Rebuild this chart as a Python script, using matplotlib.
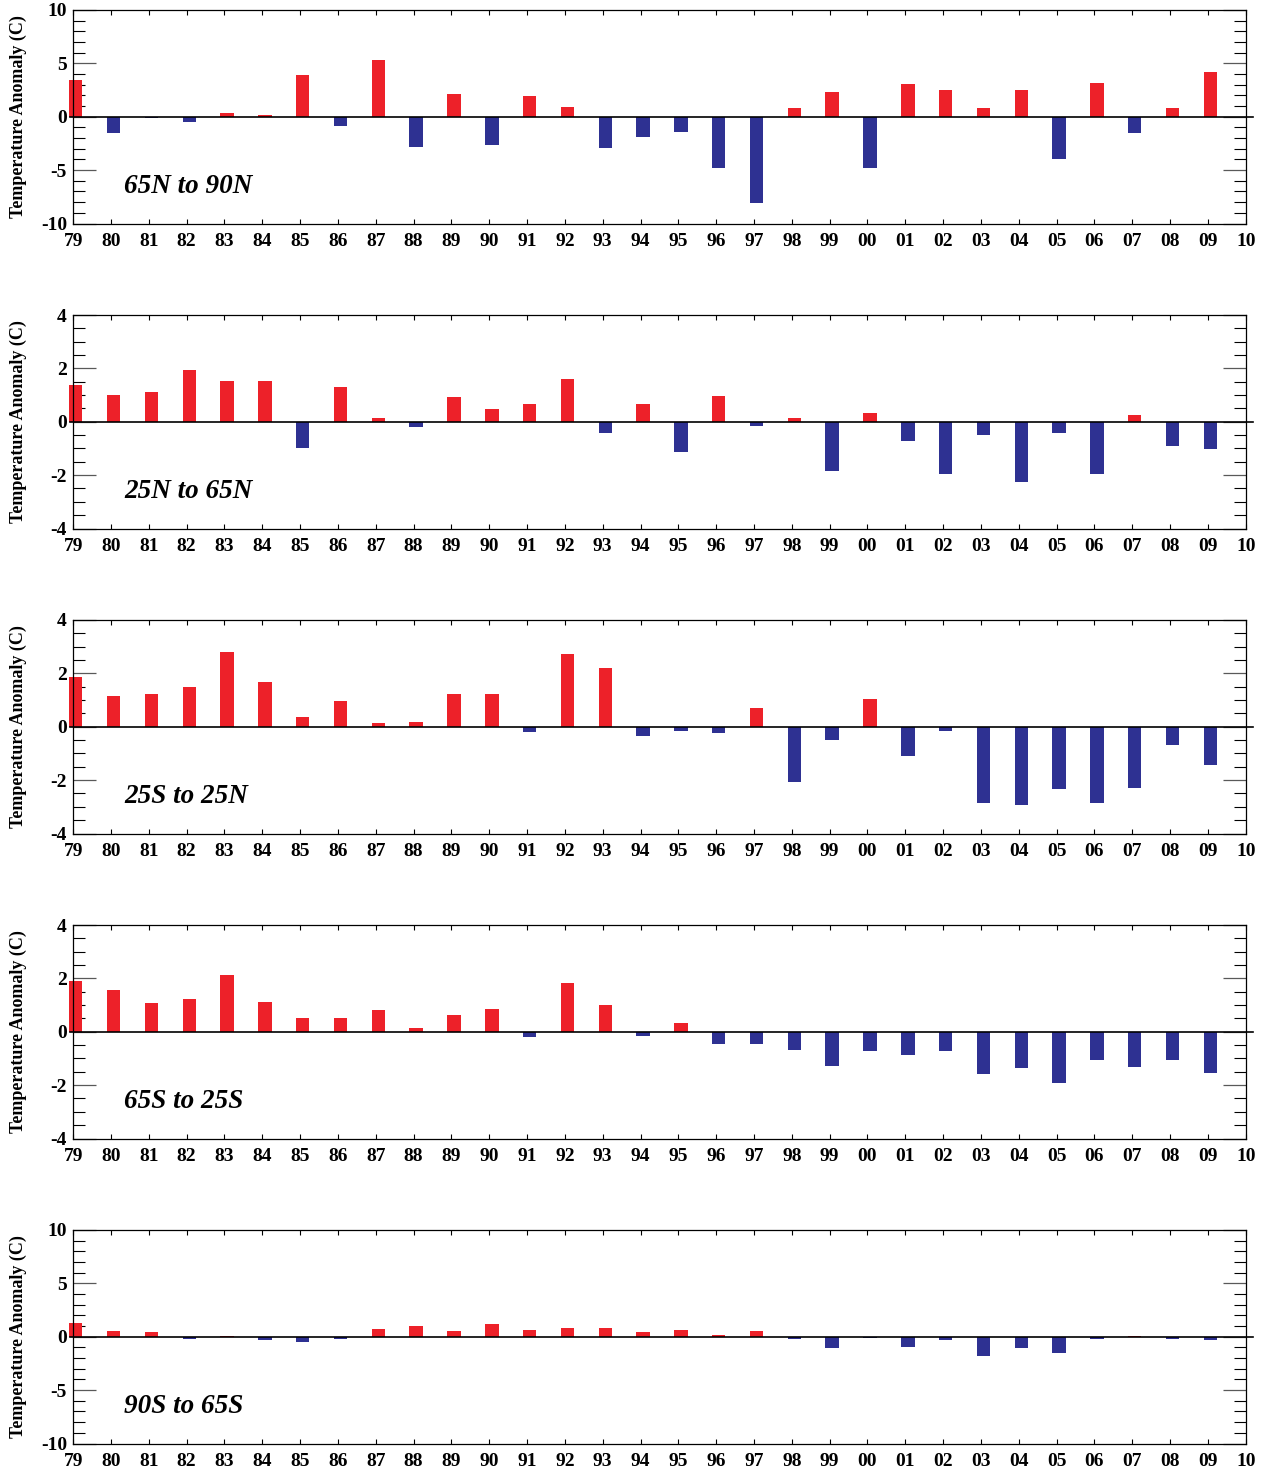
import matplotlib
matplotlib.use('Agg')
import matplotlib.pyplot as plt
from matplotlib.ticker import MultipleLocator

plt.rcParams['font.family'] = ['Liberation Serif', 'DejaVu Serif']
plt.rcParams['font.weight'] = 'bold'
plt.rcParams['axes.unicode_minus'] = False

# annual anomalies, 1979-2009
years = list(range(1979, 2010))
tick_years = list(range(1979, 2011))
tick_labels = ['{:02d}'.format(y % 100) for y in tick_years]

n65_90 = [3.4, -1.5, -0.15, -0.45, 0.35, 0.15, 3.95, -0.85, 5.35, -2.8,
          2.1, -2.6, 1.9, 0.9, -2.95, -1.9, -1.4, -4.8, -8.05, 0.8,
          2.3, -4.8, 3.1, 2.55, 0.8, 2.55, -4.0, 3.2, -1.5, 0.8, 4.2]
n25_65 = [1.39, 1.01, 1.12, 1.95, 1.54, 1.54, -0.98, 1.31, 0.15, -0.19,
          0.94, 0.49, 0.68, 1.61, -0.41, 0.68, -1.12, 0.98, -0.17, 0.15,
          -1.84, 0.34, -0.71, -1.95, -0.49, -2.25, -0.41, -1.95, 0.26, -0.9, -1.01]
s25_n25 = [1.88, 1.16, 1.24, 1.5, 2.81, 1.69, 0.38, 0.98, 0.15, 0.19,
           1.24, 1.24, -0.19, 2.74, 2.21, -0.34, -0.17, -0.22, 0.71, -2.06,
           -0.49, 1.05, -1.09, -0.17, -2.85, -2.92, -2.32, -2.85, -2.29, -0.67, -1.42]
s65_25 = [1.91, 1.58, 1.09, 1.24, 2.14, 1.12, 0.52, 0.52, 0.82, 0.15,
          0.64, 0.86, -0.19, 1.84, 1.01, -0.17, 0.34, -0.45, -0.45, -0.67,
          -1.27, -0.71, -0.86, -0.71, -1.57, -1.35, -1.91, -1.05, -1.31, -1.05, -1.54]
s90_65 = [1.3, 0.5, 0.4, -0.2, 0.1, -0.3, -0.45, -0.2, 0.7, 1.05,
          0.55, 1.2, 0.65, 0.85, 0.85, 0.4, 0.65, 0.2, 0.55, -0.25,
          -1.1, -0.15, -1.0, -0.35, -1.85, -1.1, -1.55, -0.25, 0.1, -0.25, -0.35]

regions = ['65N to 90N', '25N to 65N', '25S to 25N', '65S to 25S', '90S to 65S']
series = [n65_90, n25_65, s25_n25, s65_25, s90_65]
limits = [10, 4, 4, 4, 10]

RED = '#ED2129'
BLUE = '#2E3192'

fig = plt.figure(figsize=(12.7, 14.72), dpi=100)
W, H = 1270.0, 1472.0

for i in range(5):
    top_px = 10 + 305 * i
    ax = fig.add_axes([73.2 / W, 1 - (top_px + 213.5) / H, 1172.5 / W, 213.5 / H])
    vals = series[i]
    lim = limits[i]
    cols = [RED if v >= 0 else BLUE for v in vals]
    ax.bar([y - 0.11 for y in years], vals, width=0.355, align='edge',
           color=cols, clip_on=False, zorder=2)
    ax.axhline(0, xmin=-0.003, xmax=1.006, color='black', lw=1.2,
               clip_on=False, zorder=3)
    ax.set_xlim(1979, 2010)
    ax.set_ylim(-lim, lim)
    ax.set_xticks(tick_years)
    ax.set_xticklabels(tick_labels)
    if lim == 10:
        ax.yaxis.set_major_locator(MultipleLocator(5))
        ax.yaxis.set_minor_locator(MultipleLocator(1))
    else:
        ax.yaxis.set_major_locator(MultipleLocator(2))
        ax.yaxis.set_minor_locator(MultipleLocator(0.5))
    ax.tick_params(axis='x', which='major', direction='in', top=True, bottom=True,
                   length=3.5, width=0.8, pad=7, labelsize=14)
    ax.tick_params(axis='y', which='major', direction='in', left=True, right=True,
                   length=16.5, width=0.9, pad=4.5, labelsize=14, color='0.35')
    ax.tick_params(axis='y', which='minor', direction='in', left=True, right=True,
                   length=8.5, width=0.8)
    for lab in ax.get_xticklabels() + ax.get_yticklabels():
        lab.set_fontweight('bold')
    for sp in ax.spines.values():
        sp.set_linewidth(0.9)
    ax.set_ylabel('Temperature Anomaly (C)', fontsize=13, fontweight='bold')
    ax.yaxis.set_label_coords(-0.039, 0.5)
    ax.text(0.0435, 0.175, regions[i], transform=ax.transAxes, ha='left', va='center',
            fontsize=19.5, fontweight='bold', fontstyle='italic')

fig.savefig('out.png', dpi=100)
